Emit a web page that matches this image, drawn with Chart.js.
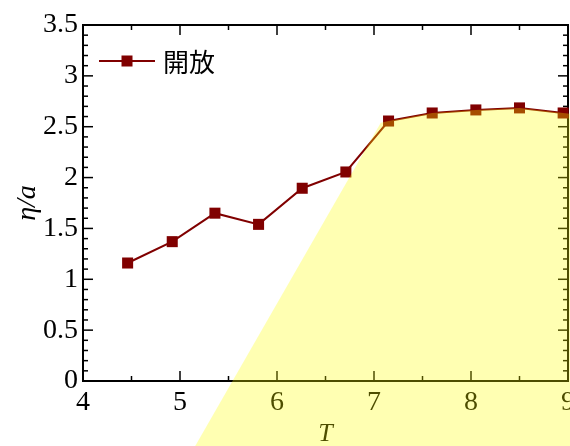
<!DOCTYPE html>
<html>
<head>
<meta charset="utf-8">
<script src="https://cdn.jsdelivr.net/npm/chart.js@4/dist/chart.umd.min.js"></script>
<style>
  html, body { margin: 0; padding: 0; background: #ffffff; }
  canvas { display: block; }
</style>
</head>
<body>
<canvas id="chart" width="570" height="446"></canvas>
<script>
// Measured series: viscosity ratio η/a against temperature T
const temperatures = [4.46, 4.92, 5.36, 5.81, 6.26, 6.71, 7.15, 7.60, 8.05, 8.50, 8.95];
const etaOverA     = [1.16, 1.37, 1.65, 1.54, 1.895, 2.055, 2.556, 2.635, 2.665, 2.685, 2.635];
const seriesLabel  = '開放';

// Axis ticks
const xTickValues = [4, 5, 6, 7, 8, 9];
const yTickValues = [0, 0.5, 1, 1.5, 2, 2.5, 3, 3.5];

// Shaded region: rising left edge, then the curve from T = 7.15 onward, then the right edge
const regionLeftT    = [5.12, 7.07];
const regionLeftEta  = [-0.70, 2.54];
const regionFromIdx  = 6;
const regionRightT   = [9.08, 9.08];
const regionRightEta = [2.62, -0.70];

const SERIF = '"Liberation Serif", "Times New Roman", serif';
const DARK_RED = '#800000';

// Closed frame with inward major/minor ticks on all four sides
const frameTicks = {
  id: 'frameTicks',
  beforeDatasetsDraw(chart) {
    const { ctx, chartArea: a, scales: { x, y } } = chart;
    ctx.save();
    ctx.strokeStyle = '#000';
    ctx.lineWidth = 1.5;
    const seg = (x0, y0, x1, y1) => { ctx.beginPath(); ctx.moveTo(x0, y0); ctx.lineTo(x1, y1); ctx.stroke(); };
    for (let k = 0; k <= (x.max - x.min) * 2; k++) {
      const v = x.min + k * 0.5;
      const px = x.getPixelForValue(v);
      const len = k % 2 === 0 ? 10 : 5;
      seg(px, a.bottom, px, a.bottom - len);
      seg(px, a.top, px, a.top + len);
    }
    for (let k = 0; k <= Math.round((y.max - y.min) * 10); k++) {
      const v = y.min + k * 0.1;
      const py = y.getPixelForValue(v);
      const len = k % 5 === 0 ? 10 : 5;
      seg(a.left, py, a.left + len, py);
      seg(a.right, py, a.right - len, py);
    }
    ctx.lineWidth = 2;
    ctx.strokeRect(a.left, a.top, a.right - a.left, a.bottom - a.top);
    ctx.restore();
  }
};

// Legend entry inside the plot: line with a square marker, then the label
const insetLegend = {
  id: 'insetLegend',
  afterDatasetsDraw(chart) {
    const { ctx, chartArea: a } = chart;
    const ds = chart.data.datasets[0];
    const x0 = a.left + 16, x1 = a.left + 72, yc = a.top + 36;
    ctx.save();
    ctx.strokeStyle = ds.borderColor;
    ctx.lineWidth = ds.borderWidth;
    ctx.beginPath(); ctx.moveTo(x0, yc); ctx.lineTo(x1, yc); ctx.stroke();
    ctx.fillStyle = ds.backgroundColor;
    const side = 11;
    const xm = (x0 + x1) / 2;
    ctx.fillRect(xm - side / 2, yc - side / 2, side, side);
    ctx.fillStyle = '#000';
    ctx.font = '26px "Noto Sans CJK JP", "Noto Sans CJK SC", sans-serif';
    ctx.textBaseline = 'middle';
    ctx.textAlign = 'left';
    ctx.fillText(ds.label, x1 + 8, yc + 1);
    ctx.restore();
  }
};

// Translucent yellow region laid over the whole figure, not clipped to the plot
const shadedRegion = {
  id: 'shadedRegion',
  afterDraw(chart) {
    const { ctx, scales: { x, y } } = chart;
    const pts = [];
    regionLeftT.forEach((t, i) => pts.push([t, regionLeftEta[i]]));
    for (let i = regionFromIdx; i < temperatures.length; i++) pts.push([temperatures[i], etaOverA[i]]);
    regionRightT.forEach((t, i) => pts.push([t, regionRightEta[i]]));
    ctx.save();
    ctx.fillStyle = 'rgba(255, 255, 0, 0.3)';
    ctx.beginPath();
    pts.forEach(([t, v], i) => {
      const px = x.getPixelForValue(t), py = y.getPixelForValue(v);
      if (i === 0) ctx.moveTo(px, py); else ctx.lineTo(px, py);
    });
    ctx.closePath();
    ctx.fill();
    ctx.restore();
  }
};

new Chart(document.getElementById('chart'), {
  type: 'line',
  data: {
    datasets: [{
      label: seriesLabel,
      data: temperatures.map((t, i) => ({ x: t, y: etaOverA[i] })),
      borderColor: DARK_RED,
      backgroundColor: DARK_RED,
      borderWidth: 2,
      pointStyle: 'rect',
      pointRadius: 7.8,
      pointHoverRadius: 7.8,
      pointBorderWidth: 0,
      tension: 0,
      fill: false,
      clip: false
    }]
  },
  options: {
    responsive: false,
    animation: false,
    devicePixelRatio: 1,
    layout: { padding: { left: 0, top: 25, right: 2, bottom: 0 }, autoPadding: false },
    plugins: { legend: { display: false }, tooltip: { enabled: false } },
    scales: {
      x: {
        type: 'linear',
        min: 4, max: 9,
        afterBuildTicks: s => { s.ticks = xTickValues.map(v => ({ value: v })); },
        afterFit: s => { s.height = 65; s.paddingLeft = 0; s.paddingRight = 0; },
        grid: { display: false, drawTicks: false },
        border: { display: false },
        ticks: {
          color: '#000', padding: 5, maxRotation: 0, autoSkip: false,
          font: { family: SERIF, size: 28 },
          callback: v => String(v)
        },
        title: {
          display: true, text: 'T', color: '#000',
          font: { family: SERIF, size: 26, style: 'italic', lineHeight: 1 },
          padding: { top: 0, bottom: -1 }
        }
      },
      y: {
        type: 'linear',
        min: 0, max: 3.5,
        afterBuildTicks: s => { s.ticks = yTickValues.map(v => ({ value: v })); },
        afterFit: s => { s.width = 83; s.paddingTop = 0; s.paddingBottom = 0; },
        grid: { display: false, drawTicks: false },
        border: { display: false },
        ticks: {
          color: '#000', padding: 5, autoSkip: false,
          font: { family: SERIF, size: 28 },
          callback: v => String(v)
        },
        title: {
          display: true, text: 'η/a', color: '#000',
          font: { family: SERIF, size: 28, style: 'italic', lineHeight: 1 },
          padding: { top: 14, bottom: 0 }
        }
      }
    }
  },
  plugins: [frameTicks, insetLegend, shadedRegion]
});
</script>
</body>
</html>
